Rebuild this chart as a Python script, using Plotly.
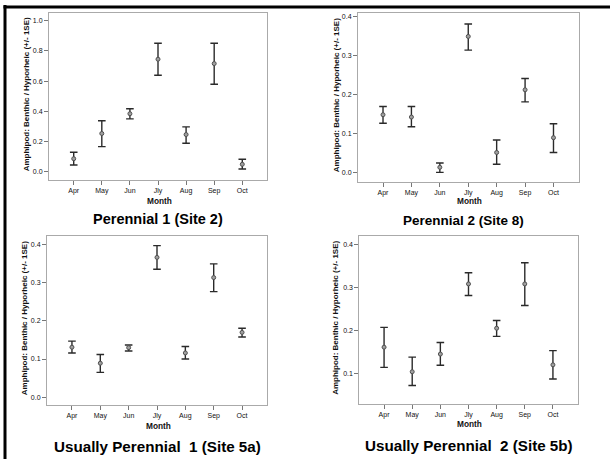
import plotly.graph_objects as go

W, H = 610, 459

months = ["Apr", "May", "Jun", "Jly", "Aug", "Sep", "Oct"]

# Perennial 1 (Site 2)
p1_mean = [0.086, 0.253, 0.384, 0.745, 0.246, 0.716, 0.049]
p1_upper = [0.129, 0.337, 0.417, 0.851, 0.297, 0.851, 0.082]
p1_lower = [0.044, 0.166, 0.350, 0.639, 0.188, 0.579, 0.018]

# Perennial 2 (Site 8)
p2_mean = [0.148, 0.142, 0.013, 0.349, 0.051, 0.212, 0.089]
p2_upper = [0.169, 0.169, 0.024, 0.381, 0.083, 0.241, 0.125]
p2_lower = [0.126, 0.117, 0.000, 0.314, 0.021, 0.181, 0.051]

# Usually Perennial 1 (Site 5a)
u1_mean = [0.131, 0.089, 0.130, 0.367, 0.116, 0.314, 0.170]
u1_upper = [0.147, 0.112, 0.137, 0.398, 0.133, 0.350, 0.181]
u1_lower = [0.116, 0.065, 0.121, 0.336, 0.100, 0.277, 0.158]

# Usually Perennial 2 (Site 5b)
u2_mean = [0.162, 0.105, 0.146, 0.309, 0.206, 0.309, 0.121]
u2_upper = [0.208, 0.139, 0.173, 0.335, 0.224, 0.358, 0.154]
u2_lower = [0.115, 0.073, 0.120, 0.282, 0.187, 0.259, 0.088]

titles = ["Perennial 1 (Site 2)", "Perennial 2 (Site 8)",
          "Usually Perennial  1 (Site 5a)", "Usually Perennial  2 (Site 5b)"]
y_title = "Amphipod: Benthic / Hyporheic (+/- 1SE)"
x_title = "Month"


def px(x):
    return x / W


def py(y):
    return 1 - y / H


FONT = "Liberation Sans, Arial, Helvetica, sans-serif"

# panel geometry in pixels: (x0, x1, y_top, y_bottom)
panels = [
    dict(mean=p1_mean, up=p1_upper, lo=p1_lower, box=(49, 267, 12.7, 180),
         yr=[-0.055, 1.053], ticks=[0.0, 0.2, 0.4, 0.6, 0.8, 1.0],
         ytx=26, tfs=14.5, ty=219, xl_y=201),
    dict(mean=p2_mean, up=p2_upper, lo=p2_lower, box=(358, 578.5, 12.7, 181.7),
         yr=[-0.024, 0.41], ticks=[0.0, 0.1, 0.2, 0.3, 0.4],
         ytx=336, tfs=13.5, ty=220, xl_y=201),
    dict(mean=u1_mean, up=u1_upper, lo=u1_lower, box=(47, 267, 235.7, 404.7),
         yr=[-0.02, 0.424], ticks=[0.0, 0.1, 0.2, 0.3, 0.4],
         ytx=24, tfs=15.2, ty=446.5, xl_y=426),
    dict(mean=u2_mean, up=u2_upper, lo=u2_lower, box=(359.3, 577.7, 235.7, 404),
         yr=[0.03, 0.421], ticks=[0.1, 0.2, 0.3, 0.4],
         ytx=336, tfs=15.2, ty=445.5, xl_y=424),
]

fig = go.Figure()
annotations = []
layout_axes = {}

for i, p in enumerate(panels):
    n = i + 1
    xa = "x" if n == 1 else f"x{n}"
    ya = "y" if n == 1 else f"y{n}"
    plus = [u - m for u, m in zip(p["up"], p["mean"])]
    minus = [m - l for m, l in zip(p["mean"], p["lo"])]
    fig.add_trace(go.Scatter(
        x=months, y=p["mean"], mode="markers", xaxis=xa, yaxis=ya,
        marker=dict(size=4, color="#a0a0a0", line=dict(color="#505050", width=1)),
        error_y=dict(type="data", symmetric=False, array=plus, arrayminus=minus,
                     color="#2a2a2a", thickness=1.4, width=3.8),
        showlegend=False, hoverinfo="skip"))
    x0, x1, yt, yb = p["box"]
    xkey = "xaxis" if n == 1 else f"xaxis{n}"
    ykey = "yaxis" if n == 1 else f"yaxis{n}"
    layout_axes[xkey] = dict(
        domain=[px(x0), px(x1)], anchor=ya, type="category",
        categoryorder="array", categoryarray=months, range=[-0.88, 6.88],
        showline=True, mirror=True, linecolor="#aaaaaa", linewidth=1,
        ticks="outside", ticklen=4, tickcolor="#777777", tickwidth=1,
        tickfont=dict(family=FONT, size=7, color="#111111"),
        showgrid=False, zeroline=False, fixedrange=True)
    layout_axes[ykey] = dict(
        domain=[py(yb), py(yt)], anchor=xa, range=p["yr"],
        tickmode="array", tickvals=p["ticks"],
        ticktext=[f"{t:.1f}" for t in p["ticks"]],
        showline=True, mirror=True, linecolor="#aaaaaa", linewidth=1,
        ticks="outside", ticklen=4, tickcolor="#777777", tickwidth=1,
        tickfont=dict(family=FONT, size=7, color="#111111"),
        showgrid=False, zeroline=False, fixedrange=True)
    # y axis title
    annotations.append(dict(
        text=f"<b>{y_title}</b>", x=px(p["ytx"]), y=py((yt + yb) / 2 - 2),
        xref="paper", yref="paper", textangle=-90, showarrow=False,
        xanchor="center", yanchor="middle",
        font=dict(family=FONT, size=8, color="#111111")))
    # x axis title
    annotations.append(dict(
        text=f"<b>{x_title}</b>", x=px((x0 + x1) / 2 + 1), y=py(p["xl_y"]),
        xref="paper", yref="paper", showarrow=False,
        xanchor="center", yanchor="middle",
        font=dict(family=FONT, size=8.3, color="#111111")))
    # panel title
    annotations.append(dict(
        text=f"<b>{titles[i]}</b>", x=px((x0 + x1) / 2 + (-5 if n == 2 else 0)),
        y=py(p["ty"]), xref="paper", yref="paper", showarrow=False,
        xanchor="center", yanchor="middle",
        font=dict(family=FONT, size=p["tfs"], color="#000000")))

shapes = [
    dict(type="rect", xref="paper", yref="paper",
         x0=px(3.5), x1=px(6.5), y0=0, y1=py(5),
         fillcolor="#000000", line=dict(width=0), layer="above"),
    dict(type="rect", xref="paper", yref="paper",
         x0=px(3.5), x1=1, y0=py(8.5), y1=py(5.5),
         fillcolor="#000000", line=dict(width=0), layer="above"),
]

fig.update_layout(
    width=W, height=H, margin=dict(l=0, r=0, t=0, b=0, pad=0),
    paper_bgcolor="white", plot_bgcolor="white",
    annotations=annotations, shapes=shapes, **layout_axes)

fig.write_html(
    "out.html",
    config={"displayModeBar": False, "staticPlot": True},
    post_script="document.body.style.margin='0';document.body.style.padding='0';"
                "document.body.style.overflow='hidden';")
